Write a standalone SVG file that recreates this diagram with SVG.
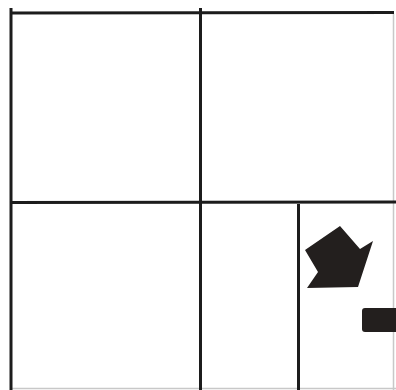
<svg xmlns="http://www.w3.org/2000/svg" width="396" height="390" viewBox="0 0 396 390">
<style>
.ln{stroke:#1c1c1c;stroke-width:3;stroke-linecap:butt;fill:none}
.fa{stroke:#c8c8c8;stroke-width:1.5;fill:none}
.blk{fill:#231f1e}
</style>
<rect width="396" height="390" fill="#ffffff"/>
<g id="grid">
<line class="fa" x1="393.5" y1="14" x2="393.5" y2="390"/>
<line class="fa" x1="10" y1="388.5" x2="396" y2="388.5"/>
<line class="ln" x1="10" y1="13" x2="394" y2="12.5"/>
<line class="ln" x1="11" y1="8" x2="11" y2="390"/>
<line class="ln" x1="200.5" y1="8" x2="200.5" y2="390"/>
<line class="ln" x1="10" y1="202.5" x2="396" y2="202"/>
<line class="ln" x1="298.5" y1="204" x2="298.5" y2="390"/>
</g>
<g id="arrow-shape">
<polygon class="blk" points="305,250 340,226 360,249 373,241 358,287 307,288 318,272"/>
</g>
<g id="small-block">
<rect class="blk" x="362" y="308" width="36" height="24" rx="3"/>
</g>
</svg>
